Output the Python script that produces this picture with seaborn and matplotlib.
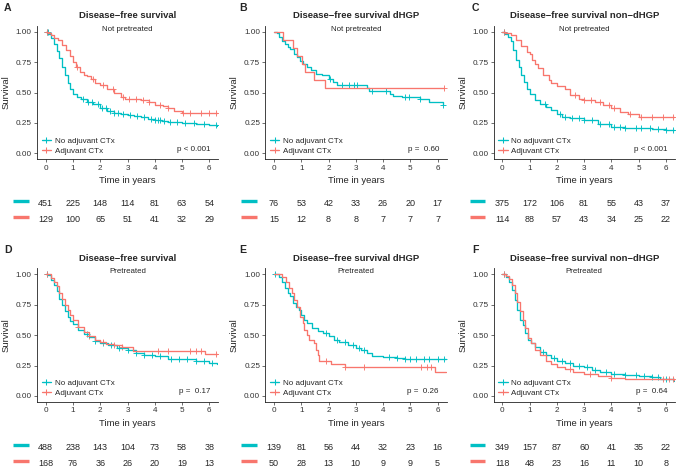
import numpy as np
import pandas as pd
import matplotlib
matplotlib.use('Agg')
import matplotlib.pyplot as plt
import seaborn as sns

sns.set_theme(style='ticks')
plt.rcParams['font.family'] = ['Liberation Sans', 'DejaVu Sans']

TEAL = '#00BFC4'
RED = '#F8766D'
groups = ['No adjuvant CTx', 'Adjuvant CTx']
years = [0, 1, 2, 3, 4, 5, 6]

# ---- panel A: disease-free survival, not pretreated
a_no_t = [0, 0.1, 0.2, 0.3, 0.4, 0.5, 0.6, 0.7, 0.8, 0.9, 1.0, 1.15, 1.3, 1.5, 1.75, 2.0, 2.25, 2.5, 2.75,
          3.0, 3.25, 3.5, 3.75, 4.0, 4.25, 4.5, 4.75, 5.0, 5.5, 6.0, 6.3]
a_no_s = [1.0, 0.98, 0.95, 0.90, 0.84, 0.78, 0.71, 0.64, 0.58, 0.53, 0.49, 0.465, 0.445, 0.425, 0.405, 0.37,
          0.35, 0.335, 0.325, 0.315, 0.305, 0.295, 0.285, 0.275, 0.265, 0.26, 0.255, 0.25, 0.24, 0.233, 0.228]
a_adj_t = [0, 0.1, 0.2, 0.3, 0.45, 0.6, 0.75, 0.9, 1.0, 1.1, 1.25, 1.4, 1.5, 1.65, 1.8, 2.0, 2.25, 2.5, 2.75,
           2.9, 3.5, 3.8, 4.0, 4.3, 4.5, 4.7, 5.0, 6.3]
a_adj_s = [1.0, 0.99, 0.97, 0.95, 0.93, 0.89, 0.85, 0.80, 0.75, 0.71, 0.67, 0.645, 0.635, 0.61, 0.58, 0.56,
           0.53, 0.50, 0.465, 0.445, 0.44, 0.425, 0.40, 0.385, 0.37, 0.345, 0.33, 0.33]
a_no_cens = [0.04, 0.07, 1.35, 1.55, 1.7, 1.9, 2.05, 2.2, 2.35, 2.5, 2.65, 2.85, 3.1, 3.35, 3.6, 3.85, 4.0,
             4.1, 4.2, 4.35, 4.55, 4.8, 5.1, 5.45, 5.8, 6.25]
a_adj_cens = [0.05, 1.15, 1.75, 2.1, 2.45, 2.85, 3.05, 3.3, 3.55, 3.8, 4.2, 4.5, 5.05, 5.3, 5.7, 6.0, 6.25]
a_no_risk = [451, 225, 148, 114, 81, 63, 54]
a_adj_risk = [129, 100, 65, 51, 41, 32, 29]

# ---- panel B: dHGP, not pretreated
b_no_t = [0, 0.1, 0.2, 0.3, 0.4, 0.5, 0.6, 0.75, 0.85, 0.95, 1.05, 1.2, 1.35, 1.55, 1.75, 2.0, 2.15, 2.3,
          3.4, 3.5, 4.25, 4.35, 4.7, 5.35, 5.7, 6.2]
b_no_s = [1.0, 0.987, 0.96, 0.92, 0.895, 0.87, 0.855, 0.82, 0.79, 0.76, 0.735, 0.71, 0.685, 0.65, 0.64, 0.61,
          0.59, 0.565, 0.535, 0.515, 0.49, 0.475, 0.46, 0.445, 0.42, 0.40]
b_adj_t = [0, 0.32, 0.68, 0.85, 1.02, 1.15, 1.48, 1.88, 6.25]
b_adj_s = [1.0, 0.933, 0.867, 0.80, 0.733, 0.667, 0.60, 0.533, 0.533]
b_no_cens = [2.05, 2.5, 2.75, 2.95, 3.05, 3.6, 4.1, 4.8, 4.95, 5.35, 6.2]
b_adj_cens = [6.25]
b_no_risk = [76, 53, 42, 33, 26, 20, 17]
b_adj_risk = [15, 12, 8, 8, 7, 7, 7]

# ---- panel C: non-dHGP, not pretreated
c_no_t = [0, 0.1, 0.2, 0.3, 0.4, 0.5, 0.6, 0.7, 0.8, 0.9, 1.0, 1.2, 1.4, 1.6, 1.8, 2.0, 2.2, 2.5, 3.0, 3.5,
          4.0, 4.5, 5.0, 5.5, 6.0, 6.3]
c_no_s = [1.0, 0.985, 0.96, 0.92, 0.85, 0.77, 0.71, 0.64, 0.59, 0.53, 0.49, 0.44, 0.405, 0.38, 0.36, 0.32,
          0.30, 0.29, 0.27, 0.245, 0.22, 0.21, 0.205, 0.20, 0.195, 0.19]
c_adj_t = [0, 0.1, 0.3, 0.5, 0.7, 0.9, 1.0, 1.1, 1.2, 1.3, 1.5, 1.7, 1.8, 2.0, 2.3, 2.5, 2.8, 3.0, 3.4, 3.7,
           4.0, 4.3, 4.6, 5.0, 6.3]
c_adj_s = [1.0, 0.99, 0.97, 0.93, 0.88, 0.835, 0.82, 0.77, 0.735, 0.70, 0.64, 0.60, 0.575, 0.555, 0.525, 0.48,
           0.45, 0.44, 0.425, 0.40, 0.37, 0.34, 0.325, 0.30, 0.30]
c_no_cens = [0.05, 1.55, 2.1, 2.3, 2.55, 2.8, 3.0, 3.3, 3.6, 3.9, 4.1, 4.3, 4.5, 4.9, 5.1, 5.4, 5.7, 6.0, 6.25]
c_adj_cens = [0.05, 2.65, 3.0, 3.25, 3.6, 3.9, 4.1, 4.7, 5.1, 5.5, 5.9, 6.25]
c_no_risk = [375, 172, 106, 81, 55, 43, 37]
c_adj_risk = [114, 88, 57, 43, 34, 25, 22]

# ---- panel D: disease-free survival, pretreated
d_no_t = [0, 0.1, 0.2, 0.3, 0.4, 0.5, 0.6, 0.7, 0.8, 0.9, 1.0, 1.2, 1.4, 1.6, 1.8, 2.0, 2.3, 2.6, 3.0, 3.3,
          3.6, 4.0, 4.5, 5.0, 5.5, 6.0, 6.3]
d_no_s = [1.0, 0.99, 0.955, 0.91, 0.86, 0.80, 0.75, 0.70, 0.65, 0.62, 0.59, 0.545, 0.51, 0.485, 0.455, 0.435,
          0.415, 0.395, 0.375, 0.35, 0.34, 0.325, 0.305, 0.30, 0.285, 0.27, 0.26]
d_adj_t = [0, 0.1, 0.2, 0.3, 0.4, 0.5, 0.6, 0.7, 0.8, 0.9, 1.0, 1.2, 1.4, 1.6, 1.8, 2.0, 2.2, 2.5, 2.8, 3.2,
           5.85, 6.3]
d_adj_s = [1.0, 1.0, 0.97, 0.94, 0.90, 0.845, 0.80, 0.75, 0.71, 0.665, 0.625, 0.57, 0.525, 0.495, 0.46, 0.44,
           0.425, 0.415, 0.40, 0.37, 0.345, 0.345]
d_no_cens = [0.05, 1.5, 1.8, 2.1, 2.4, 2.7, 3.0, 3.3, 3.6, 3.9, 4.2, 4.6, 4.9, 5.2, 5.5, 5.8, 6.1]
d_adj_cens = [0.05, 1.2, 1.6, 2.1, 2.5, 2.8, 4.1, 4.5, 5.3, 5.5, 5.7, 6.25]
d_no_risk = [488, 238, 143, 104, 73, 58, 38]
d_adj_risk = [168, 76, 36, 26, 20, 19, 13]

# ---- panel E: dHGP, pretreated
e_no_t = [0, 0.1, 0.2, 0.3, 0.4, 0.5, 0.6, 0.7, 0.8, 0.9, 1.0, 1.1, 1.2, 1.4, 1.6, 1.8, 2.0, 2.2, 2.4, 2.7,
          3.0, 3.2, 3.4, 3.6, 4.0, 4.5, 4.8, 6.3]
e_no_s = [1.0, 1.0, 0.98, 0.94, 0.885, 0.845, 0.82, 0.76, 0.735, 0.71, 0.665, 0.625, 0.60, 0.555, 0.53, 0.515,
          0.49, 0.46, 0.445, 0.42, 0.395, 0.38, 0.355, 0.325, 0.32, 0.31, 0.30, 0.30]
e_adj_t = [0, 0.3, 0.45, 0.55, 0.65, 0.75, 0.85, 0.95, 1.05, 1.1, 1.2, 1.3, 1.45, 1.55, 1.6, 1.65, 2.1, 2.6,
           5.9, 6.3]
e_adj_s = [1.0, 0.98, 0.94, 0.885, 0.845, 0.79, 0.735, 0.65, 0.60, 0.545, 0.50, 0.46, 0.435, 0.38, 0.34,
           0.285, 0.26, 0.235, 0.195, 0.195]
e_no_cens = [0.05, 1.9, 2.3, 2.6, 2.9, 3.1, 3.3, 4.2, 4.5, 4.8, 5.0, 5.2, 5.5, 5.7, 6.0, 6.25]
e_adj_cens = [1.9, 2.6, 3.3, 5.4, 5.6, 5.75]
e_no_risk = [139, 81, 56, 44, 32, 23, 16]
e_adj_risk = [50, 28, 13, 10, 9, 9, 5]

# ---- panel F: non-dHGP, pretreated
f_no_t = [0, 0.05, 0.15, 0.25, 0.35, 0.45, 0.55, 0.65, 0.75, 0.85, 0.95, 1.05, 1.2, 1.4, 1.6, 1.8, 2.0, 2.3,
          2.6, 3.0, 3.3, 3.6, 4.0, 4.5, 5.0, 5.5, 5.8, 6.3]
f_no_s = [1.0, 1.0, 0.98, 0.94, 0.87, 0.79, 0.71, 0.625, 0.585, 0.515, 0.46, 0.435, 0.40, 0.365, 0.34, 0.31,
          0.29, 0.27, 0.25, 0.235, 0.215, 0.20, 0.18, 0.175, 0.16, 0.155, 0.135, 0.125]
f_adj_t = [0, 0.05, 0.15, 0.25, 0.35, 0.45, 0.55, 0.65, 0.75, 0.85, 0.95, 1.05, 1.2, 1.4, 1.6, 1.8, 2.0, 2.3,
           2.6, 3.0, 3.5, 4.0, 4.5, 6.3]
f_adj_s = [1.0, 1.0, 0.985, 0.965, 0.91, 0.845, 0.775, 0.695, 0.625, 0.56, 0.475, 0.435, 0.38, 0.335, 0.285,
           0.26, 0.235, 0.22, 0.20, 0.18, 0.16, 0.145, 0.135, 0.13]
f_no_cens = [0.05, 1.5, 1.9, 2.2, 2.5, 2.8, 3.1, 3.4, 3.8, 4.1, 4.5, 4.9, 5.2, 5.5, 5.7, 6.0]
f_adj_cens = [0.05, 2.5, 3.2, 4.0, 5.9, 6.1, 6.25]
f_no_risk = [349, 157, 87, 60, 41, 35, 22]
f_adj_risk = [118, 48, 23, 16, 11, 10, 8]

letters = ['A', 'B', 'C', 'D', 'E', 'F']
titles = ['Disease\u2212free survival', 'Disease\u2212free survival dHGP', 'Disease\u2212free survival non\u2212dHGP'] * 2
subtitles = ['Not pretreated'] * 3 + ['Pretreated'] * 3
pvalues = ['p < 0.001', 'p =  0.60', 'p < 0.001', 'p =  0.17', 'p =  0.26', 'p =  0.64']

panels = [
    (a_no_t, a_no_s, a_adj_t, a_adj_s, a_no_cens, a_adj_cens, a_no_risk, a_adj_risk),
    (b_no_t, b_no_s, b_adj_t, b_adj_s, b_no_cens, b_adj_cens, b_no_risk, b_adj_risk),
    (c_no_t, c_no_s, c_adj_t, c_adj_s, c_no_cens, c_adj_cens, c_no_risk, c_adj_risk),
    (d_no_t, d_no_s, d_adj_t, d_adj_s, d_no_cens, d_adj_cens, d_no_risk, d_adj_risk),
    (e_no_t, e_no_s, e_adj_t, e_adj_s, e_no_cens, e_adj_cens, e_no_risk, e_adj_risk),
    (f_no_t, f_no_s, f_adj_t, f_adj_s, f_no_cens, f_adj_cens, f_no_risk, f_adj_risk),
]

W, H = 676, 468
fig = plt.figure(figsize=(W / 100, H / 100), dpi=100)


def box(l, t, w, h):
    return [l / W, 1 - (t + h) / H, w / W, h / H]


def step_at(t, s, x):
    t = np.asarray(t)
    s = np.asarray(s)
    return s[np.searchsorted(t, x, side='right') - 1]


col_left = [37, 265.3, 493.6]
row_top = [25.6, 268.2]
risk_top = [195, 439]
letter_x = [4, 239, 472]
ax_w, ax_h = 181.3, 133.8
xlim = (-0.32, 6.33)
pal = {groups[0]: TEAL, groups[1]: RED}

for i, (nt, ns, at, as_, nc, ac, nr, ar) in enumerate(panels):
    r, c = divmod(i, 3)
    ax = fig.add_axes(box(col_left[c], row_top[r], ax_w, ax_h))

    df = pd.concat([
        pd.DataFrame({'time': nt, 'surv': ns, 'group': groups[0]}),
        pd.DataFrame({'time': at, 'surv': as_, 'group': groups[1]}),
    ])
    sns.lineplot(data=df, x='time', y='surv', hue='group', palette=pal, estimator=None,
                 drawstyle='steps-post', linewidth=0.95, legend=False, ax=ax)

    for tt, ss, cens, col in [(nt, ns, nc, TEAL), (at, as_, ac, RED)]:
        cs = step_at(tt, ss, cens)
        sns.scatterplot(x=cens, y=cs, marker='+', color=col, s=16, linewidth=0.65, ax=ax, legend=False)

    ax.set_xlim(*xlim)
    ax.set_ylim(-0.05, 1.05)
    ax.set_xticks(years)
    ax.set_yticks([0, 0.25, 0.5, 0.75, 1.0])
    ax.set_yticklabels(['0.00', '0.25', '0.50', '0.75', '1.00'])
    ax.tick_params(labelsize=5.9, length=2.2, width=0.5, pad=1.5, colors='#333333')
    ax.set_xlabel('')
    ax.set_ylabel('')
    sns.despine(ax=ax)
    for sp in ['left', 'bottom']:
        ax.spines[sp].set_linewidth(0.6)
        ax.spines[sp].set_color('#222222')

    ax.text(0.5, -21 / ax_h, 'Time in years', transform=ax.transAxes, ha='center', va='center', fontsize=6.8)
    ax.text(-31 / ax_w, 0.5, 'Survival', transform=ax.transAxes, ha='center', va='center',
            rotation=90, fontsize=6.8)
    ax.text(0.5, 1 - 3.6 / ax_h, subtitles[i], transform=ax.transAxes, ha='center', va='center', fontsize=5.7)
    ax.text(6.05, 0.035, pvalues[i], ha='right', va='center', fontsize=5.8)

    handles = [plt.Line2D([], [], color=TEAL, marker='+', lw=0.95, ms=4, mew=0.75),
               plt.Line2D([], [], color=RED, marker='+', lw=0.95, ms=4, mew=0.75)]
    ax.legend(handles, groups, loc='lower left', bbox_to_anchor=(0.025, 0.035), frameon=False,
              fontsize=5.8, handlelength=1.2, handletextpad=0.45, labelspacing=0.3, borderpad=0,
              borderaxespad=0)

    fig.text((col_left[c] + ax_w / 2) / W, 1 - (row_top[r] - 9.6) / H, titles[i], ha='center', va='center',
             fontsize=6.8, fontweight='bold')
    fig.text(letter_x[c] / W, 1 - (row_top[r] - 18) / H, letters[i], ha='left', va='center',
             fontsize=7.6, fontweight='bold')

    rax = fig.add_axes(box(col_left[c], risk_top[r], ax_w, 32))
    rax.set_xlim(*xlim)
    rax.set_ylim(0, 2)
    rax.axis('off')
    for yy, counts, col in [(1.5, nr, TEAL), (0.5, ar, RED)]:
        for x, n in zip(years, counts):
            rax.text(x, yy, str(n), ha='center', va='center', fontsize=6.5)
        rax.plot([-1.2, -0.62], [yy + 0.15, yy + 0.15], color=col, lw=2.4, solid_capstyle='butt', clip_on=False)

fig.savefig('out.png', dpi=100)
